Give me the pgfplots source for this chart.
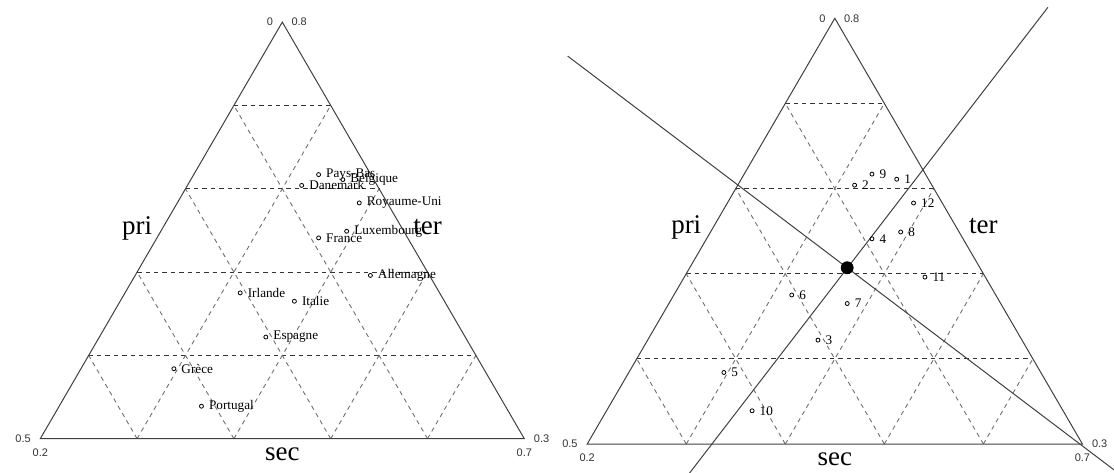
\documentclass[border=0pt]{standalone}
\usepackage{fontspec}
\setmainfont{Liberation Serif}
\newfontfamily\numfont{Liberation Sans}
\usepackage{pgfplots}
\usepackage{pgfplotstable}
\pgfplotsset{compat=1.18}

% Employment shares by sector (primary, secondary, tertiary), EC-12
\pgfplotstableread[col sep=comma]{
name,num,pri,sec,ter
Belgique,1,0.032,0.357,0.611
Danemark,2,0.078,0.318,0.604
Espagne,3,0.206,0.372,0.422
France,4,0.092,0.367,0.541
Grèce,5,0.320,0.296,0.384
Irlande,6,0.206,0.319,0.475
Italie,7,0.155,0.380,0.465
Luxembourg,8,0.059,0.392,0.549
Pays-Bas,9,0.054,0.329,0.617
Portugal,10,0.314,0.347,0.339
Allemagne,11,0.061,0.443,0.496
Royaume-Uni,12,0.029,0.388,0.583
}\ecdata

% centroid of the twelve countries
\pgfplotstableread[col sep=comma]{
pri,sec,ter
0.134,0.359,0.507
}\ecmean

% principal axes through the centroid (plane coordinates of the triangle)
\pgfplotstableread{
u v
-0.0394 0.7891
1.1200 -0.0955
}\axisone
\pgfplotstableread{
u v
0.1900 -0.0810
0.9303 0.8883
}\axistwo

% ranges: pri 0--0.5, sec 0.2--0.7, ter 0.3--0.8
\def\tx{2*(\thisrow{sec}-0.2)+(\thisrow{ter}-0.3)}
\def\ty{1.732051*(\thisrow{ter}-0.3)}

\definecolor{side}{gray}{0.25}
\definecolor{grd}{gray}{0.2}

\tikzset{lab/.style={font=\fontsize{13.5}{14}\selectfont, inner sep=0pt, anchor=base}}

\newcommand\trianglegrid{%
  \pgfplotsinvokeforeach{0.2,0.4,0.6,0.8}{%
    \draw[grd, line width=0.45pt, dash pattern=on 2.2pt off 2pt]
      ({##1/2},{0.866025*##1}) -- ({1-##1/2},{0.866025*##1});
    \draw[grd!70, line width=0.45pt, dash pattern=on 2.2pt off 2pt]
      (##1,0) -- ({(1+##1)/2},{0.866025*(1-##1)});
    \draw[grd!70, line width=0.45pt, dash pattern=on 2.2pt off 2pt]
      (##1,0) -- ({##1/2},{0.866025*##1});
  }%
  \draw[side, line width=0.5pt] (0,0) -- (1,0) -- (0.5,0.866025) -- cycle;
  \path[font=\numfont\fontsize{5.5}{6}\selectfont, text=black!80, inner sep=0pt]
    (0.5,0.866025) node[anchor=east, xshift=-4.4pt] {0}
    (0.5,0.866025) node[anchor=west, xshift=4.4pt] {0.8}
    (0,0) node[anchor=east, xshift=-4.6pt] {0.5}
    (0,0) node[yshift=-6.8pt] {0.2}
    (1,0) node[anchor=west, xshift=4.6pt] {0.3}
    (1,0) node[yshift=-6.8pt] {0.7};
}

\pgfplotsset{
  tri/.style={
    scale only axis, hide axis, clip=true,
    width=278.5pt, height=236pt, anchor=south west,
  },
}

\begin{document}
\begin{tikzpicture}
\useasboundingbox (0,0) rectangle (557pt,236pt);

% left: countries by name
\begin{axis}[tri, at={(0pt,0pt)},
  xmin=-0.08326, xmax=1.06756, ymin=-0.06923, ymax=0.91206]
  \trianglegrid
  \node[lab] at (0.2,0.4237) {pri};
  \node[lab] at (0.8,0.4237) {ter};
  \node[lab] at (0.5,-0.0449) {sec};
  \addplot[only marks, mark=o, mark size=1pt, mark options={line width=0.4pt, black},
    point meta=explicit symbolic, nodes near coords,
    nodes near coords style={anchor=west, inner sep=0pt, xshift=3.6pt,
      font=\fontsize{6.6}{7}\selectfont, text=black}]
    table[x expr={\tx}, y expr={\ty}, meta=name] {\ecdata};
\end{axis}

% right: countries by number, centroid and principal axes
\begin{axis}[tri, at={(278.5pt,0pt)},
  xmin=-0.06099, xmax=1.06381, ymin=-0.05696, ymax=0.90323]
  \trianglegrid
  \node[lab] at (0.2,0.4280) {pri};
  \node[lab] at (0.8,0.4280) {ter};
  \node[lab] at (0.5,-0.0439) {sec};
  \addplot[side, line width=0.5pt] table[x=u, y=v] {\axisone};
  \addplot[side, line width=0.5pt] table[x=u, y=v] {\axistwo};
  \addplot[only marks, mark=o, mark size=1pt, mark options={line width=0.4pt, black},
    point meta=explicit symbolic, nodes near coords,
    nodes near coords style={anchor=west, inner sep=0pt, xshift=3.6pt,
      font=\fontsize{6.6}{7}\selectfont, text=black}]
    table[x expr={\tx}, y expr={\ty}, meta=num] {\ecdata};
  \addplot[only marks, mark=*, mark size=3pt, black]
    table[x expr={\tx}, y expr={\ty}] {\ecmean};
\end{axis}
\end{tikzpicture}
\end{document}
